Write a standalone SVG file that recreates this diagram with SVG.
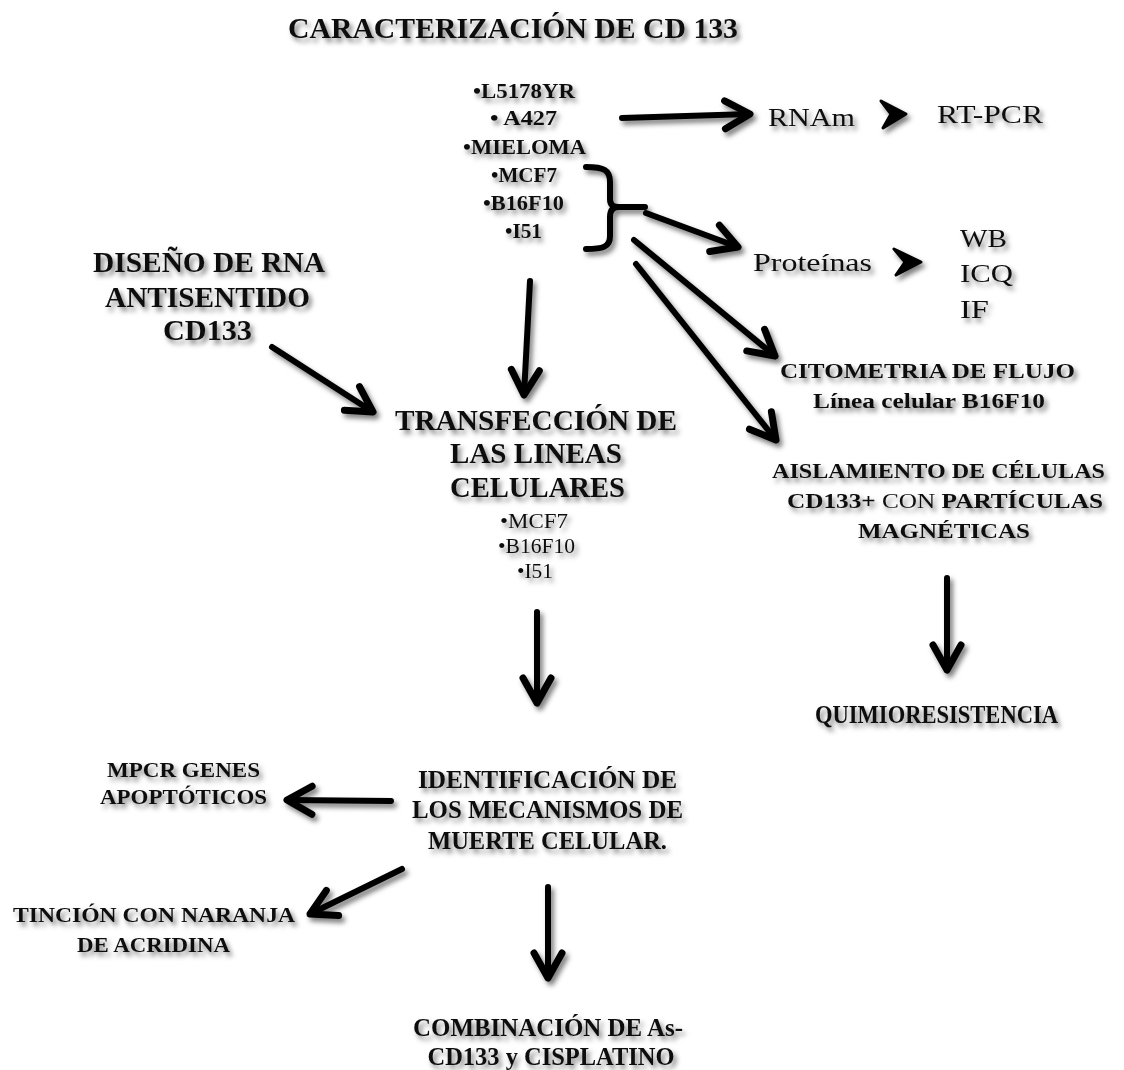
<svg xmlns="http://www.w3.org/2000/svg" width="1124" height="1070" viewBox="0 0 1124 1070">
<defs>
<filter id="sh" x="-10%" y="-30%" width="120%" height="160%">
<feDropShadow dx="3" dy="4" stdDeviation="2.5" flood-color="#000" flood-opacity="0.5"/>
</filter>
<marker id="ah" markerUnits="userSpaceOnUse" viewBox="0 0 36 36" refX="30" refY="18" markerWidth="36" markerHeight="36" orient="auto">
<path d="M5,4 L30,18 L5,32" fill="none" stroke="#000" stroke-width="7" stroke-linecap="round" stroke-linejoin="round"/>
</marker>
<style>
text{font-family:"Liberation Serif","Times New Roman",serif;font-weight:bold;fill:#111;text-anchor:middle}
.t{font-size:30px}
.l{font-size:20px}
.m{font-size:29px}
.s{font-size:22px}
.r{font-size:26px}
.n{font-weight:normal}
.c{font-size:26px}
.k{font-size:25px}
.ln{fill:none;stroke:#000;stroke-width:6;stroke-linecap:round}
</style>
</defs>
<rect width="1124" height="1070" fill="#fff"/>
<g filter="url(#sh)">
<g id="title"><text class="t" x="513" y="38" textLength="450" lengthAdjust="spacingAndGlyphs">CARACTERIZACIÓN DE CD 133</text></g>
<g id="lines">
<text class="l" x="524" y="98" textLength="102" lengthAdjust="spacingAndGlyphs">•L5178YR</text>
<text class="l" x="523.5" y="125" textLength="67" lengthAdjust="spacingAndGlyphs">•  A427</text>
<text class="l" x="524.5" y="154" textLength="123" lengthAdjust="spacingAndGlyphs">•MIELOMA</text>
<text class="l" x="524" y="182" textLength="66" lengthAdjust="spacingAndGlyphs">•MCF7</text>
<text class="l" x="523.5" y="210" textLength="81" lengthAdjust="spacingAndGlyphs">•B16F10</text>
<text class="l" x="523.5" y="238" textLength="37" lengthAdjust="spacingAndGlyphs">•I51</text>
</g>
<g id="rnam"><text class="r n" x="811.5" y="126" textLength="87" lengthAdjust="spacingAndGlyphs">RNAm</text></g>
<g id="rtpcr"><text class="r n" x="990" y="123" textLength="106" lengthAdjust="spacingAndGlyphs">RT-PCR</text></g>
<g id="proteinas"><text class="r n" x="812.5" y="271" textLength="119" lengthAdjust="spacingAndGlyphs">Proteínas</text></g>
<g id="wb">
<text class="r n" x="960" y="247" style="text-anchor:start" textLength="47" lengthAdjust="spacingAndGlyphs">WB</text>
<text class="r n" x="960" y="282" style="text-anchor:start" textLength="53" lengthAdjust="spacingAndGlyphs">ICQ</text>
<text class="r n" x="960" y="318" style="text-anchor:start" textLength="29" lengthAdjust="spacingAndGlyphs">IF</text>
</g>
<g id="citometria">
<text class="s" x="927.5" y="378" textLength="295" lengthAdjust="spacingAndGlyphs">CITOMETRIA DE FLUJO</text>
<text class="s" x="929" y="408" textLength="232" lengthAdjust="spacingAndGlyphs">Línea celular B16F10</text>
</g>
<g id="aislamiento">
<text class="s" x="938.5" y="478" textLength="333" lengthAdjust="spacingAndGlyphs">AISLAMIENTO DE CÉLULAS</text>
<text class="s" x="945" y="508" textLength="316" lengthAdjust="spacingAndGlyphs"><tspan>CD133+ </tspan><tspan class="n">CON</tspan><tspan> PARTÍCULAS</tspan></text>
<text class="s" x="944" y="538" textLength="172" lengthAdjust="spacingAndGlyphs">MAGNÉTICAS</text>
</g>
<g id="quimio"><text class="r" x="936.5" y="723" textLength="243" lengthAdjust="spacingAndGlyphs">QUIMIORESISTENCIA</text></g>
<g id="diseno">
<text class="t" x="209" y="272" textLength="232" lengthAdjust="spacingAndGlyphs">DISEÑO DE RNA</text>
<text class="t" x="207.5" y="307" textLength="205" lengthAdjust="spacingAndGlyphs">ANTISENTIDO</text>
<text class="t" x="207.5" y="340" textLength="89" lengthAdjust="spacingAndGlyphs">CD133</text>
</g>
<g id="transfeccion">
<text class="m" x="536" y="430" textLength="282" lengthAdjust="spacingAndGlyphs">TRANSFECCIÓN DE</text>
<text class="m" x="536" y="463" textLength="172" lengthAdjust="spacingAndGlyphs">LAS LINEAS</text>
<text class="m" x="537.5" y="497" textLength="175" lengthAdjust="spacingAndGlyphs">CELULARES</text>
<text class="l n" x="534" y="528" textLength="68" lengthAdjust="spacingAndGlyphs">•MCF7</text>
<text class="l n" x="536.5" y="553" textLength="77" lengthAdjust="spacingAndGlyphs">•B16F10</text>
<text class="l n" x="535" y="578" textLength="36" lengthAdjust="spacingAndGlyphs">•I51</text>
</g>
<g id="identificacion">
<text class="c" x="547.5" y="788" textLength="259" lengthAdjust="spacingAndGlyphs">IDENTIFICACIÓN DE</text>
<text class="c" x="547.5" y="818" textLength="271" lengthAdjust="spacingAndGlyphs">LOS MECANISMOS DE</text>
<text class="c" x="547.5" y="849" textLength="239" lengthAdjust="spacingAndGlyphs">MUERTE  CELULAR.</text>
</g>
<g id="mpcr">
<text class="s" x="183.5" y="777" textLength="153" lengthAdjust="spacingAndGlyphs">MPCR GENES</text>
<text class="s" x="183.5" y="804" textLength="167" lengthAdjust="spacingAndGlyphs">APOPTÓTICOS</text>
</g>
<g id="tincion">
<text class="s" x="154" y="922" textLength="282" lengthAdjust="spacingAndGlyphs">TINCIÓN  CON NARANJA</text>
<text class="s" x="153.5" y="952" textLength="153" lengthAdjust="spacingAndGlyphs">DE ACRIDINA</text>
</g>
<g id="combinacion">
<text class="k" x="548" y="1036" textLength="270" lengthAdjust="spacingAndGlyphs">COMBINACIÓN DE As-</text>
<text class="k" x="551" y="1065" textLength="247" lengthAdjust="spacingAndGlyphs">CD133 y CISPLATINO</text>
</g>
<g id="connectors">
<path class="ln" d="M586,167 C604,167 610,170 610,182 L610,199 C610,205 613,207 619,207 L645,207 M619,207 C613,207 610,210 610,217 L610,236 C610,247 603,249 586,249"/>
<path class="ln" d="M622,118 L750,114" marker-end="url(#ah)"/>
<polygon points="881,101 906,114 883,128 891,114" fill="#000" stroke="#000" stroke-width="3" stroke-linejoin="round"/>
<path class="ln" d="M646,213 L738,247" marker-end="url(#ah)"/>
<polygon points="894,249 921,262 896,275 905,262" fill="#000" stroke="#000" stroke-width="3" stroke-linejoin="round"/>
<path class="ln" d="M634,240 L775,356" marker-end="url(#ah)"/>
<path class="ln" d="M636,264 L776,440" marker-end="url(#ah)"/>
<path class="ln" d="M947,578 L947,670" marker-end="url(#ah)"/>
<path class="ln" d="M272,347 L373,412" marker-end="url(#ah)"/>
<path class="ln" d="M530,281 L524,395" marker-end="url(#ah)"/>
<path class="ln" d="M537,612 L537,703" marker-end="url(#ah)"/>
<path class="ln" d="M391,801 L287,800" marker-end="url(#ah)"/>
<path class="ln" d="M402,869 L310,914" marker-end="url(#ah)"/>
<path class="ln" d="M548,887 L548,978" marker-end="url(#ah)"/>
</g>
</g>
</svg>
